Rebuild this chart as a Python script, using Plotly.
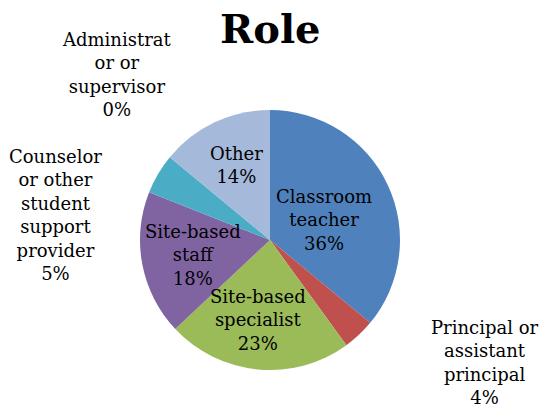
import math
import plotly.graph_objects as go

categories = ["Classroom teacher", "Principal or assistant principal", "Site-based specialist",
              "Site-based staff", "Counselor or other student support provider",
              "Administrator or supervisor", "Other"]
values = [36, 4, 23, 18, 5, 0, 14]
label_texts = ["Classroom<br>teacher<br>36%", "Principal or<br>assistant<br>principal<br>4%",
               "Site-based<br>specialist<br>23%", "Site-based<br>staff<br>18%",
               "Counselor<br>or other<br>student<br>support<br>provider<br>5%",
               "Administrat<br>or or<br>supervisor<br>0%", "Other<br>14%"]
colors = ["#4F81BD", "#C0504D", "#9BBB59", "#8064A2", "#4BACC6", "#F79646", "#A5B9DA"]

W, H = 547, 413
cx, cy, r = 270, 240, 130

# label placement: (radius factor, angle shift in degrees) relative to slice mid-angle
label_place = [(0.44, 5), (1.90, -17), (0.62, 3), (0.60, 0), (1.66, -24), (1.73, 7.6), (0.63, 1.4)]

fig = go.Figure(go.Pie(
    labels=categories, values=values, sort=False, direction="clockwise", rotation=0,
    marker=dict(colors=colors, line=dict(width=0)), textinfo="none", showlegend=False,
    hoverinfo="label+percent",
    domain=dict(x=[(cx - r) / W, (cx + r) / W], y=[1 - (cy + r) / H, 1 - (cy - r) / H]),
))

total = sum(values)
annotations = []
acc = 0
for v, txt, (rf, shift) in zip(values, label_texts, label_place):
    mid = (acc + v / 2) / total * 360 + shift
    acc += v
    a = math.radians(mid)
    px = cx + rf * r * math.sin(a)
    py = cy - rf * r * math.cos(a)
    annotations.append(dict(x=px / W, y=1 - py / H, xref="paper", yref="paper", text=txt,
                            showarrow=False, xanchor="center", yanchor="middle", align="center",
                            font=dict(family="DejaVu Serif", size=18, color="#000000")))

annotations.append(dict(x=270 / W, y=1 - 28 / H, xref="paper", yref="paper",
                        text="<b>Role</b>", showarrow=False, xanchor="center", yanchor="middle",
                        font=dict(family="DejaVu Serif", size=40, color="#000000")))

fig.update_layout(width=W, height=H, margin=dict(l=0, r=0, t=0, b=0),
                  paper_bgcolor="white", plot_bgcolor="white", annotations=annotations)
fig.write_html("out.html", config={"displayModeBar": False},
               post_script="document.body.style.margin='0px';")
